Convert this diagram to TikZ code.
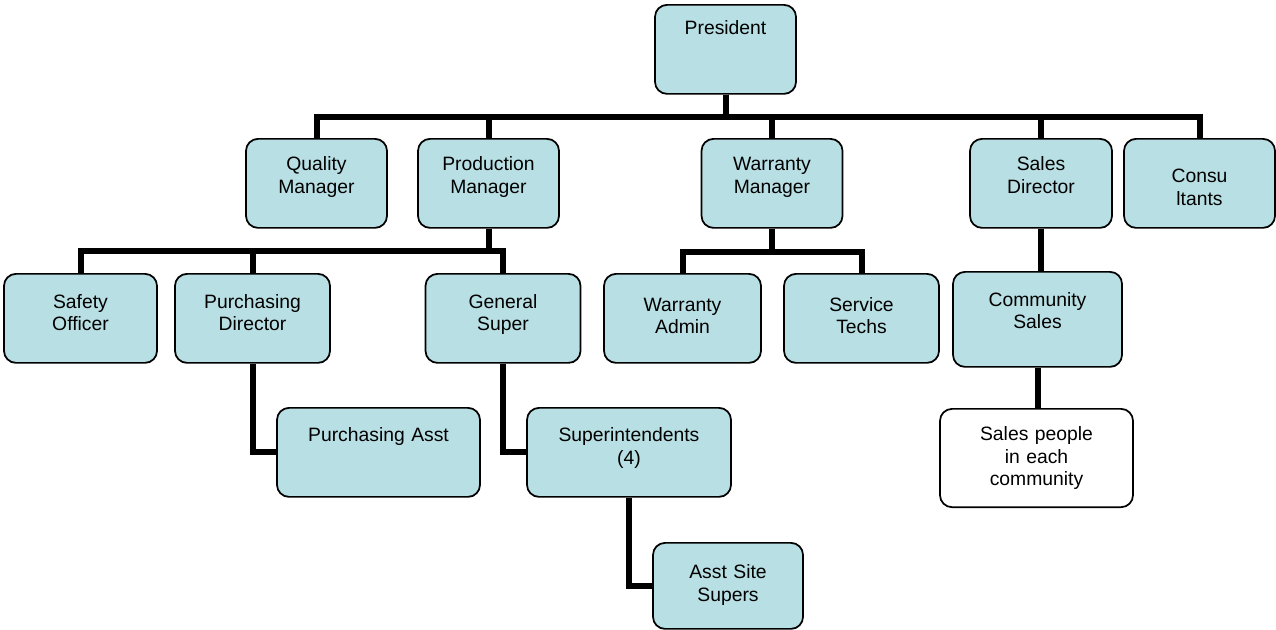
\documentclass[tikz,border=0pt]{standalone}
\usepackage{fontspec}
\setmainfont{Liberation Sans}
\usetikzlibrary{positioning}

\definecolor{unitfill}{RGB}{184,223,227}
\newcommand{\unitfont}{\fontsize{14.5}{16.8}\selectfont}

\tikzset{
	unit/.style={draw=black, line width=1.3pt, fill=unitfill, rounded corners=9pt,
		anchor=north, align=center, inner sep=0pt, text width=105.75pt,
		text height=24pt, text depth=42.75pt, font=\unitfont},
	low/.style={text height=26pt, text depth=40.75pt},
	link/.style={line width=4.5pt}
}

\begin{document}
\begin{tikzpicture}[x=0.75pt, y=-0.75pt]
	\useasboundingbox (0, 0) rectangle (1276, 629);
	% top
	\node[unit, text height=22.5pt, text depth=44.25pt] (pres) at (725.5, 4) {President};
	% managers
	\node[unit] (qual) at (316.5, 138) {Quality\\Manager};
	\node[unit] (prod) at (488.5, 138) {Production\\Manager};
	\node[unit] (warr) at (772, 138) {Warranty\\Manager};
	\node[unit, text width=106.5pt] (sales) at (1041, 138) {Sales\\Director};
	\node[unit, text width=113.25pt, text height=33pt, text depth=33.75pt] (cons) at (1199.5, 138) {Consu\\ltants};
	% second row
	\node[unit, low, text width=114.75pt] (safe) at (80.5, 273) {Safety\\Officer};
	\node[unit, low, text width=116.25pt] (pdir) at (252.5, 273) {Purchasing\\Director};
	\node[unit, low, text width=116.25pt] (gen) at (503, 273) {General\\Super};
	\node[unit, text width=117.75pt, text height=28pt, text depth=38.75pt] (wadm) at (682.5, 273) {Warranty\\Admin};
	\node[unit, text width=116.25pt, text height=28pt, text depth=38.75pt] (serv) at (861.5, 273) {Service\\Techs};
	\node[unit, low, text width=126.75pt, text depth=45.25pt] (comm) at (1037.5, 271) {Community\\Sales};
	% third row
	\node[unit, text width=152.25pt, text height=25pt, text depth=41.75pt] (passt) at (378.5, 407) {Purchasing Asst};
	\node[unit, text width=153pt, text height=25.5pt, text depth=41.25pt] (supt) at (629, 407) {Superintendents\\(4)};
	\node[unit, fill=white, text width=144.75pt, text depth=49.75pt] (people) at (1036.5, 408) {Sales people\\in each\\community};
	\node[unit, text width=112.5pt, text height=27pt, text depth=37.5pt] (site) at (728, 542) {Asst Site\\Supers};

	% links
	\foreach \n in {qual, prod, warr, sales, cons}
		\draw[link] (pres.south) -- ++(0, 22) -| (\n.north);
	\foreach \n in {safe, pdir, gen}
		\draw[link] (prod.south) -- ++(0, 22) -| (\n.north);
	\foreach \n in {wadm, serv}
		\draw[link] (warr.south) -- ++(0, 23) -| (\n.north);
	\draw[link] (sales.south) -- (sales.south |- comm.north);
	\draw[link] (comm.south) -- (comm.south |- people.north);
	\draw[link] (pdir.south) |- (passt.west);
	\draw[link] (gen.south) |- (supt.west);
	\draw[link] (supt.south) |- (site.west);
\end{tikzpicture}
\end{document}
